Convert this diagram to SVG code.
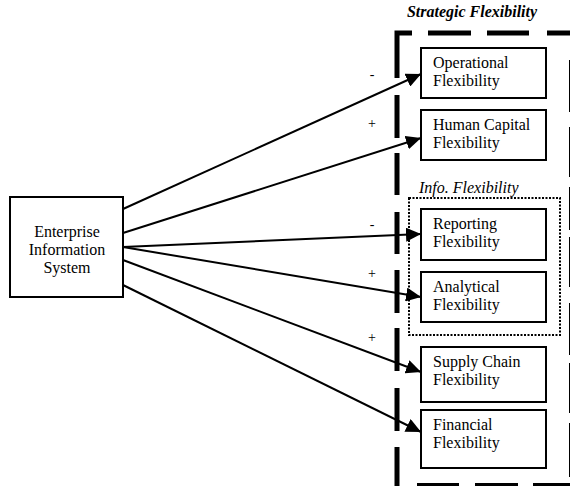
<svg xmlns="http://www.w3.org/2000/svg" width="570" height="486" viewBox="0 0 570 486">
<style>
.t{font-family:"Liberation Serif","Times New Roman",serif;font-size:16px;fill:#000}
.box{fill:#fff;stroke:#000;stroke-width:2}
.con{stroke:#000;stroke-width:2;fill:none;marker-end:url(#ah)}
.sg{font-family:"Liberation Serif","Times New Roman",serif;font-size:14px;fill:#000;text-anchor:middle}
.dash{fill:none;stroke:#000;stroke-width:5;stroke-linecap:butt}
</style>
<defs>
<marker id="ah" markerUnits="userSpaceOnUse" markerWidth="16" markerHeight="14" refX="15" refY="7" orient="auto">
<path d="M0,0 L15,7 L0,14 Z" fill="#000"/>
</marker>
</defs>
<rect width="570" height="486" fill="#fff"/>
<g id="strategic">
<path class="dash" d="M394.5,33 H412 M428,33 H471 M487,33 H529 M547,33 H574
M397,30.5 V78 M397,95 V138 M397,153 V195 M397,212 V254 M397,270 V313 M397,328 V371 M397,388 V431 M397,447 V488
M571.5,30.5 V35 M571.5,60 V112 M571.5,127 V177 M571.5,187 V230 M571.5,237 V287 M571.5,303 V355 M571.5,363 V413 M571.5,423 V477
M417,485.5 H459 M475,485.5 H518 M533,485.5 H574"/>
<text x="472" y="17" class="t" style="font-weight:bold;font-style:italic" text-anchor="middle">Strategic Flexibility</text>
</g>
<g id="info">
<rect x="409" y="198" width="151" height="137" fill="none" stroke="#000" stroke-width="2" stroke-dasharray="2 1.5"/>
<text x="419" y="193" class="t" style="font-style:italic">Info. Flexibility</text>
</g>
<g id="eis">
<rect class="box" x="10" y="197" width="113" height="100"/>
<text class="t" text-anchor="middle"><tspan x="67" y="237">Enterprise</tspan><tspan x="67" y="255">Information</tspan><tspan x="67" y="273">System</tspan></text>
</g>
<g id="operational">
<rect class="box" x="421" y="48" width="125" height="50"/>
<text class="t"><tspan x="433" y="68">Operational</tspan><tspan x="433" y="86">Flexibility</tspan></text>
</g>
<g id="human">
<rect class="box" x="421" y="110" width="125" height="50"/>
<text class="t"><tspan x="433" y="130">Human Capital</tspan><tspan x="433" y="148">Flexibility</tspan></text>
</g>
<g id="reporting">
<rect class="box" x="421" y="209" width="125" height="51"/>
<text class="t"><tspan x="433" y="229">Reporting</tspan><tspan x="433" y="247">Flexibility</tspan></text>
</g>
<g id="analytical">
<rect class="box" x="421" y="272" width="125" height="50"/>
<text class="t"><tspan x="433" y="292">Analytical</tspan><tspan x="433" y="310">Flexibility</tspan></text>
</g>
<g id="supply">
<rect class="box" x="421" y="347" width="125" height="55"/>
<text class="t"><tspan x="433" y="367">Supply Chain</tspan><tspan x="433" y="385">Flexibility</tspan></text>
</g>
<g id="financial">
<rect class="box" x="421" y="410" width="125" height="58"/>
<text class="t"><tspan x="433" y="430">Financial</tspan><tspan x="433" y="448">Flexibility</tspan></text>
</g>
<g id="connectors">
<line class="con" x1="123" y1="209" x2="421" y2="74"/>
<line class="con" x1="123" y1="233" x2="421" y2="138"/>
<line class="con" x1="123" y1="247" x2="421" y2="234"/>
<line class="con" x1="123" y1="247" x2="421" y2="297"/>
<line class="con" x1="123" y1="260" x2="421" y2="372"/>
<line class="con" x1="123" y1="285" x2="421" y2="432"/>
<text class="sg" x="372" y="79">-</text>
<text class="sg" x="372" y="128">+</text>
<text class="sg" x="372" y="229">-</text>
<text class="sg" x="372" y="278">+</text>
<text class="sg" x="372" y="342">+</text>
</g>
</svg>
